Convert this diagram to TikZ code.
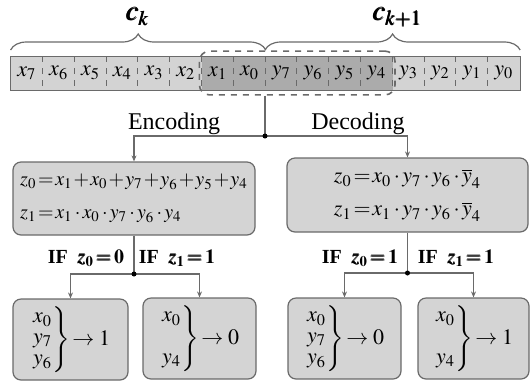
\documentclass[tikz,border=0pt]{standalone}
\usepackage{amsmath}
\usepackage{mathptmx}
\usepackage{fontspec}
\setmainfont{Liberation Serif}
\usepackage{xcolor}
\usepackage{tikz}
\usetikzlibrary{arrows.meta,calc,positioning,fit,decorations.pathreplacing}
\definecolor{cellgray}{HTML}{D3D3D3}
\definecolor{selgray}{HTML}{ABABAB}
\definecolor{boxgray}{HTML}{D4D4D4}
\definecolor{linegray}{HTML}{6A6A6A}
\renewcommand{\arraystretch}{0.8}
% tight operators
\newcommand{\pls}{\mkern1mu{+}\mkern1mu}
\newcommand{\eqs}{\mkern1.5mu{=}\mkern1.5mu}
\newcommand{\dts}{\mkern2mu{\cdot}\mkern2mu}
\newcommand{\ifz}[2]{IF\enspace$\pmb{z}_{\mathbf{#1}}\mkern2mu{\pmb{=}}\mkern2mu\mathbf{#2}$}

\tikzset{
  cell/.style={minimum width=15.9pt,minimum height=16.5pt,inner sep=0pt,
    font=\fontsize{11}{13}\selectfont},
  eqbox/.style={draw=linegray,fill=boxgray,rounded corners=4pt,semithick,
    font=\fontsize{11}{16.5}\selectfont},
  resbox/.style={draw=linegray,fill=boxgray,rounded corners=4pt,semithick,
    minimum height=40.5pt,inner sep=0pt,font=\fontsize{11}{13}\selectfont},
  lbl/.style={font=\fontsize{12}{14}\selectfont},
  cond/.style={font=\fontsize{10}{12}\selectfont\bfseries},
  conn/.style={linegray,semithick},
  arr/.style={conn,-{Stealth[length=3pt,width=2.5pt]}},
  dot/.style={circle,fill=black,inner sep=0pt,minimum size=2.5pt},
  grp/.style={decorate,decoration={brace,amplitude=8pt},linegray,semithick}
}

\begin{document}
\begin{tikzpicture}[x=0.5pt,y=-0.5pt]
  \useasboundingbox (0,0) rectangle (530,382);

  % bit string
  \foreach \lab/\f [count=\i from 0] in {x_7/cellgray,x_6/cellgray,x_5/cellgray,x_4/cellgray,
      x_3/cellgray,x_2/cellgray,x_1/selgray,x_0/selgray,y_7/selgray,y_6/selgray,y_5/selgray,
      y_4/selgray,y_3/cellgray,y_2/cellgray,y_1/cellgray,y_0/cellgray}
    \node[cell,fill=\f] (b\i) at ({26.9+31.8*\i},73) {$\lab$};
  \draw[linegray] (b0.north west) rectangle (b15.south east);
  \foreach \i in {1,...,15}
    \draw[linegray,dashed,thin] (b\i.north west) -- (b\i.south west);
  \node[fit=(b6)(b11),draw=linegray,dashed,thick,rounded corners=5pt,
    inner xsep=1pt,inner ysep=2.5pt] (sel) {};

  % braces
  \draw[grp] (b0.north west |- 0,50) -- (b7.north east |- 0,50);
  \draw[grp] (b8.north west |- 0,50) -- (b15.north east |- 0,50);
  \node[font=\fontsize{14}{16}\selectfont] (ck) at (138,17) {$\pmb{c}_{\pmb{k}}$};
  \node[font=\fontsize{14}{16}\selectfont] (ck1) at (398,17) {$\pmb{c}_{\pmb{k+1}}$};

  % equation boxes
  \node[eqbox,font=\fontsize{10}{16.5}\selectfont,minimum width=121pt,minimum height=36.5pt,
    align=left] (enc) at (134,198.5)
    {$z_0\eqs x_1\pls x_0\pls y_7\pls y_6\pls y_5\pls y_4$\\
     $z_1\eqs x_1\dts x_0\dts y_7\dts y_6\dts y_4$};
  \node[eqbox,minimum width=120.5pt,minimum height=37pt,align=center] (dec) at (407.5,195)
    {$z_0\eqs x_0\dts y_7\dts y_6\dts \overline{y}_4$\\
     $z_1\eqs x_1\dts y_7\dts y_6\dts \overline{y}_4$};

  \coordinate (split) at (b8.west |- 0,136);
  \draw[conn] (sel.south -| split) -- (split);
  \draw[arr] (split) -| (enc.north);
  \draw[arr] (split) -| (dec.north);
  \node[dot] at (split) {};
  \node[lbl] (enclbl) at (174,124) {Encoding};
  \node[lbl] (declbl) at (358,124) {Decoding};

  % result boxes
  \node[resbox,minimum width=57.5pt] (r1) at (70.5,339.5)
    {$\left.\begin{array}{@{}l@{}}x_0\\y_7\\y_6\end{array}\right\}\!\rightarrow 1$};
  \node[resbox,minimum width=56.5pt] (r2) at (199.5,338.5)
    {$\left.\begin{array}{@{}l@{}}x_0\\ \\y_4\end{array}\right\}\!\rightarrow 0$};
  \node[resbox,minimum width=56.5pt] (r3) at (344.5,338.5)
    {$\left.\begin{array}{@{}l@{}}x_0\\y_7\\y_6\end{array}\right\}\!\rightarrow 0$};
  \node[resbox,minimum width=55.5pt] (r4) at (473.5,338.5)
    {$\left.\begin{array}{@{}l@{}}x_0\\ \\y_4\end{array}\right\}\!\rightarrow 1$};

  \coordinate (encsplit) at (enc.south |- 0,274);
  \coordinate (decsplit) at (dec.south |- 0,273);
  \draw[conn] (enc.south) -- (encsplit);
  \draw[arr] (encsplit) -| (r1.north);
  \draw[arr] (encsplit) -| (r2.north);
  \draw[conn] (dec.south) -- (decsplit);
  \draw[arr] (decsplit) -| (r3.north);
  \draw[arr] (decsplit) -| (r4.north);
  \node[dot] at (encsplit) {};
  \node[dot] at (decsplit) {};

  \node[cond] (c1) at (86,258) {\ifz{0}{0}};
  \node[cond] (c2) at (177,258) {\ifz{1}{1}};
  \node[cond] (c3) at (360,258) {\ifz{0}{1}};
  \node[cond] (c4) at (456,258) {\ifz{1}{1}};
\end{tikzpicture}
\end{document}
